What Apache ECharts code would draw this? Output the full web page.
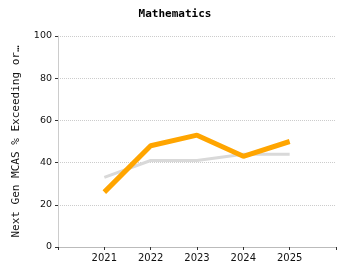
<!DOCTYPE html>
<html><head><meta charset="utf-8">
<script src="https://cdn.jsdelivr.net/npm/echarts@6/dist/echarts.min.js"></script>
<style>html,body{margin:0;padding:0;background:#fff}#c{width:350px;height:280px}</style>
</head><body><div id="c"></div>
<script>
var years = [2021, 2022, 2023, 2024, 2025];
var schoolValues = [26, 48, 53, 43, 50];
var stateValues = [33, 41, 41, 44, 44];
var yTicks = [0, 20, 40, 60, 80, 100];
var titleText = 'Mathematics';
var yName = 'Next Gen MCAS % Exceeding or…';

function pairs(v){ return years.map(function(y,i){ return [y, v[i]]; }); }

var chart = echarts.init(document.getElementById('c'), null, {renderer:'canvas'});
chart.setOption({
  animation:false,
  title:{text:titleText, left:'center', top:4, textStyle:{fontFamily:'DejaVu Sans Mono', fontSize:11, fontWeight:'bold', color:'#000'}},
  grid:{left:58, right:14, top:36, bottom:33},
  xAxis:{type:'value', min:years[0]-1, max:years[years.length-1]+1, interval:1,
    axisLine:{lineStyle:{color:'#bbb'}},
    axisTick:{show:true, length:3, lineStyle:{color:'#333'}},
    splitLine:{show:false},
    axisLabel:{fontFamily:'DejaVu Sans', fontSize:10, color:'#111', margin:6,
      formatter:function(v){ return years.indexOf(v)>=0 ? String(v) : ''; }}
  },
  yAxis:{type:'value', min:yTicks[0], max:yTicks[yTicks.length-1], interval:20,
    name:yName, nameLocation:'middle', nameGap:36, nameRotate:90,
    nameTextStyle:{fontFamily:'DejaVu Sans Mono', fontSize:11, color:'#111'},
    axisLine:{show:true, lineStyle:{color:'#ccc'}},
    axisTick:{show:true, length:3, lineStyle:{color:'#333'}},
    splitLine:{lineStyle:{color:'#ccc', type:'dotted'}},
    axisLabel:{fontFamily:'DejaVu Sans', fontSize:9.5, color:'#111', margin:6}
  },
  series:[
    {type:'line', data:pairs(stateValues), lineStyle:{color:'#d9d9d9', width:3}, itemStyle:{color:'#d9d9d9'}, symbol:'none', z:2},
    {type:'line', data:pairs(schoolValues), lineStyle:{color:'#FFA500', width:5}, itemStyle:{color:'#FFA500'}, symbol:'none', z:3}
  ]
});
</script></body></html>
